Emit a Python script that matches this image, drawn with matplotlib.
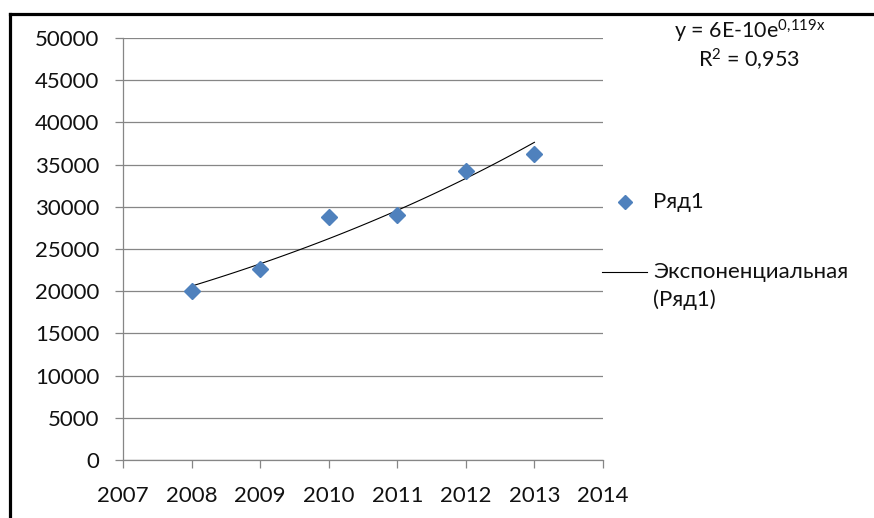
import matplotlib
matplotlib.use('Agg')
import matplotlib.pyplot as plt
from matplotlib.lines import Line2D
import numpy as np

plt.rcParams['font.family'] = ['Lato', 'DejaVu Sans']
plt.rcParams['mathtext.fontset'] = 'custom'
plt.rcParams['mathtext.rm'] = 'Lato'
plt.rcParams['mathtext.it'] = 'Lato'

years = np.array([2008, 2009, 2010, 2011, 2012, 2013])
values = np.array([20000, 22600, 28750, 29000, 34200, 36200])

series_label = 'Ряд1'
trend_label = 'Экспоненциальная'
trend_label2 = '(Ряд1)'
eq_text = 'y = 6E-10e$^{\\mathregular{0{,}119x}}$'
r2_text = 'R$^{\\mathregular{2}}$ = 0,953'

# exponential trendline, fitted like Excel does
b, ln_a = np.polyfit(years, np.log(values), 1)
xt = np.linspace(years[0], years[-1], 100)
yt = np.exp(ln_a + b * xt)

W, H = 874, 518
fig = plt.figure(figsize=(W / 100, H / 100), dpi=100)
ax = fig.add_axes([123 / W, (H - 460) / H, 480 / W, 422 / H])

fs = 16
blue = '#4F81BD'
grey = '#868686'
txt = '#111111'

ax.plot(xt, yt, color='black', lw=0.8, zorder=2)
ax.plot(years, values, 'D', color=blue, ms=8.6, zorder=3)

ax.set_xlim(2007, 2014)
ax.set_ylim(0, 50000)
ax.set_xticks(range(2007, 2015))
ax.set_yticks(range(0, 50001, 5000))
ax.grid(axis='y', color=grey, lw=0.9)
ax.set_axisbelow(True)
for s in ['top', 'right']:
    ax.spines[s].set_visible(False)
for s in ['left', 'bottom']:
    ax.spines[s].set_color(grey)
    ax.spines[s].set_linewidth(0.9)
ax.tick_params(axis='y', direction='out', length=6, width=0.9, color=grey,
               labelsize=fs, pad=11, labelcolor=txt)
ax.tick_params(axis='x', direction='out', length=5.5, width=0.9, color=grey,
               labelsize=fs, pad=13, labelcolor=txt)

# equation and R^2
fig.text(750 / W, 1 - 31 / H, eq_text, ha='center', va='center', fontsize=fs - 0.5, color=txt)
fig.text(749 / W, 1 - 60 / H, r2_text, ha='center', va='center', fontsize=fs - 0.5, color=txt)

# legend
fig.add_artist(Line2D([625 / W], [1 - 202 / H], marker='D', color=blue, ms=7.5, ls='none'))
fig.text(653 / W, 1 - 202 / H, series_label, ha='left', va='center', fontsize=fs, color=txt)
fig.add_artist(Line2D([602 / W, 647 / W], [1 - 272 / H, 1 - 272 / H], color='black', lw=0.8))
fig.text(653 / W, 1 - 272 / H, trend_label, ha='left', va='center', fontsize=fs, color=txt)
fig.text(653 / W, 1 - 300 / H, trend_label2, ha='left', va='center', fontsize=fs, color=txt)

# chart frame (cropped)
fig.add_artist(Line2D([10 / W, 1], [1 - 13.5 / H, 1 - 13.5 / H], color='black', lw=2.3))
fig.add_artist(Line2D([10 / W, 10 / W], [0, 1 - 13.5 / H], color='black', lw=2.3))

fig.savefig('out.png', dpi=100)
